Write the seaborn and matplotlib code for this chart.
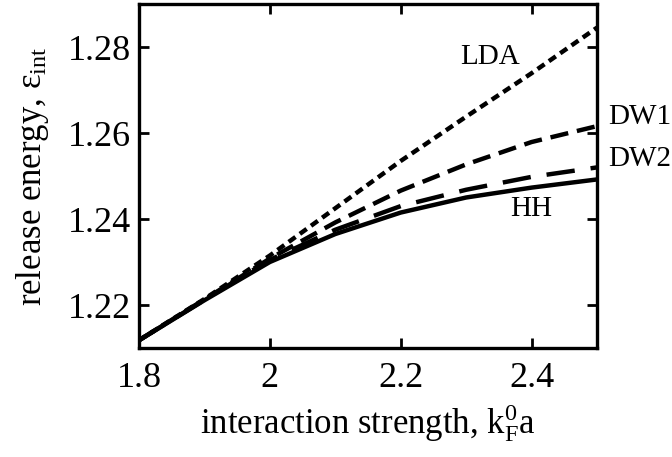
import matplotlib
matplotlib.use("Agg")
import matplotlib.pyplot as plt
import seaborn as sns
import pandas as pd

x_vals = [1.8, 1.9, 2.0, 2.1, 2.2, 2.3, 2.4, 2.5]
lda = [1.2118, 1.2214, 1.2315, 1.2425, 1.2535, 1.2638, 1.2739, 1.2845]
dw1 = [1.2118, 1.2213, 1.2308, 1.2392, 1.2466, 1.2527, 1.2579, 1.2616]
dw2 = [1.2118, 1.2212, 1.2305, 1.2375, 1.2430, 1.2468, 1.2498, 1.2520]
hh = [1.2118, 1.2211, 1.2300, 1.2365, 1.2415, 1.2450, 1.2473, 1.2492]

series_names = ["LDA", "DW1", "DW2", "HH"]
series_vals = [lda, dw1, dw2, hh]

rows = []
for name, vals in zip(series_names, series_vals):
    for xv, yv in zip(x_vals, vals):
        rows.append({"x": xv, "y": yv, "model": name})
df = pd.DataFrame(rows)

sns.set_style("ticks", {"axes.edgecolor": "black", "xtick.color": "black",
                        "ytick.color": "black", "text.color": "black",
                        "axes.labelcolor": "black"})
plt.rcParams["font.family"] = ["Liberation Serif", "DejaVu Serif"]
plt.rcParams["mathtext.fontset"] = "custom"
plt.rcParams["mathtext.rm"] = "Liberation Serif"
plt.rcParams["mathtext.it"] = "Liberation Serif:italic"

fig = plt.figure(figsize=(6.72, 4.57), dpi=100)
ax = fig.add_axes([139/672, 1 - 348/457, 458/672, 344/457])

dash_map = {"LDA": (1.9, 1.2), "DW1": (4.1, 2.0), "DW2": (6.4, 3.6), "HH": ""}
sns.lineplot(data=df, x="x", y="y", style="model", dashes=dash_map,
             color="black", linewidth=3.2, legend=False, ax=ax)
for ln in ax.get_lines():
    ln.set_dash_capstyle("butt")
    ln.set_solid_capstyle("butt")

ax.set_xlim(1.8, 2.5)
ax.set_ylim(1.21, 1.29)
ax.set_xticks([1.8, 2.0, 2.2, 2.4])
ax.set_xticklabels(["1.8", "2", "2.2", "2.4"])
ax.set_yticks([1.22, 1.24, 1.26, 1.28])
ax.set_yticklabels(["1.22", "1.24", "1.26", "1.28"])
ax.tick_params(direction="in", length=7, width=2, labelsize=26,
               top=True, right=True, colors="black")
ax.tick_params(axis="x", pad=10)
ax.tick_params(axis="y", pad=6)
for s in ax.spines.values():
    s.set_linewidth(2.4)
    s.set_color("black")

ax.set_xlabel("interaction strength, k$_{\\rm F}^{0}$a", fontsize=25, labelpad=5,
              color="black")
ax.set_ylabel("release energy, ε$_{\\rm int}$", fontsize=25, labelpad=12,
              color="black")

ax.text(2.336, 1.2777, "LDA", fontsize=21, ha="center", va="center", color="black")
ax.text(2.5168, 1.2638, "DW1", fontsize=21, ha="left", va="center", clip_on=False,
        color="black")
ax.text(2.5168, 1.2540, "DW2", fontsize=21, ha="left", va="center", clip_on=False,
        color="black")
ax.text(2.3987, 1.2423, "HH", fontsize=21, ha="center", va="center", color="black")

fig.savefig("out.png", dpi=100)
